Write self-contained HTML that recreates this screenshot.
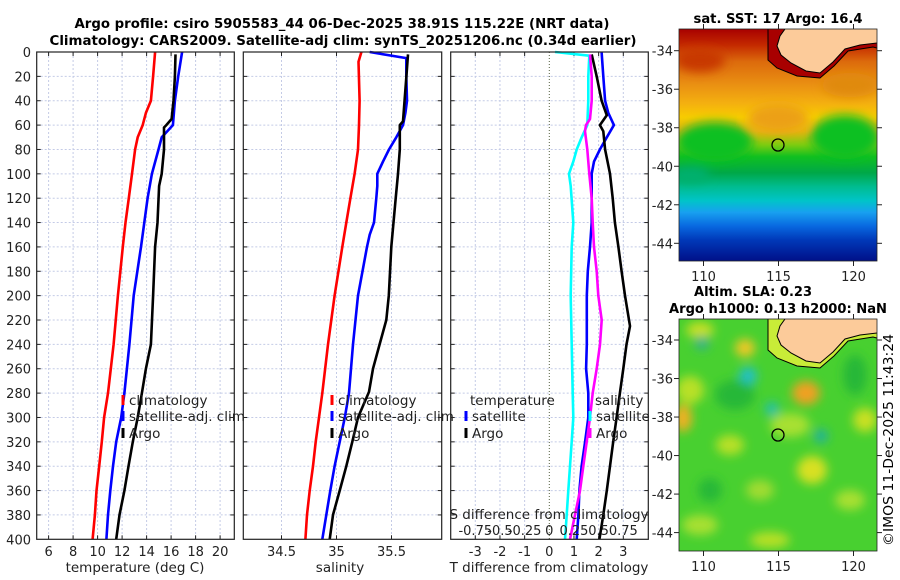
<!DOCTYPE html>
<html><head><meta charset="utf-8">
<style>
html,body{margin:0;padding:0;background:#fff;}
svg{display:block;font-family:"DejaVu Sans","Liberation Sans",sans-serif;}
</style></head>
<body>
<svg id="fig" width="900" height="580" viewBox="0 0 900 580" xmlns="http://www.w3.org/2000/svg">
<defs>
<linearGradient id="sstgrad" x1="0" y1="0" x2="0" y2="1">
<stop offset="0" stop-color="#a80000"/>
<stop offset="0.07" stop-color="#c42a00"/>
<stop offset="0.14" stop-color="#dc6a0c"/>
<stop offset="0.24" stop-color="#ea9012"/>
<stop offset="0.32" stop-color="#f4b010"/>
<stop offset="0.38" stop-color="#f8cc00"/>
<stop offset="0.44" stop-color="#e8b410"/>
<stop offset="0.5" stop-color="#7ccc10"/>
<stop offset="0.55" stop-color="#10c020"/>
<stop offset="0.62" stop-color="#00a848"/>
<stop offset="0.68" stop-color="#00bc90"/>
<stop offset="0.74" stop-color="#00c4c8"/>
<stop offset="0.79" stop-color="#18a0f0"/>
<stop offset="0.85" stop-color="#0868e0"/>
<stop offset="0.91" stop-color="#0038b8"/>
<stop offset="1" stop-color="#001088"/>
</linearGradient>
<clipPath id="clipm1"><rect x="679" y="29" width="198" height="232"/></clipPath>
<clipPath id="clipm2"><rect x="679" y="319" width="198" height="232"/></clipPath>
<filter id="blur4"><feGaussianBlur stdDeviation="5"/></filter>
</defs>

<g font-weight="bold" font-size="13" text-anchor="middle">
<text x="342" y="28" textLength="535" lengthAdjust="spacingAndGlyphs">Argo profile: csiro 5905583_44 06-Dec-2025 38.91S 115.22E (NRT data)</text>
<text x="343" y="45" textLength="587" lengthAdjust="spacingAndGlyphs">Climatology: CARS2009. Satellite-adj clim: synTS_20251206.nc (0.34d earlier)</text>
</g>

<g id="panels"></g>

<!-- SST map -->
<g>
<text x="778" y="23" font-size="13" font-weight="bold" text-anchor="middle" textLength="169" lengthAdjust="spacingAndGlyphs">sat. SST: 17 Argo: 16.4</text>
<g clip-path="url(#clipm1)">
<rect x="679" y="29" width="198" height="232" fill="url(#sstgrad)"/>
<g filter="url(#blur4)">
<ellipse cx="715" cy="142" rx="38" ry="20" fill="#10c020"/>
<ellipse cx="845" cy="137" rx="34" ry="22" fill="#10c020"/>
<ellipse cx="778" cy="118" rx="30" ry="14" fill="#eca018"/>
<ellipse cx="700" cy="60" rx="25" ry="12" fill="#c83800"/>
<ellipse cx="850" cy="85" rx="28" ry="12" fill="#e08a10"/>
<ellipse cx="690" cy="175" rx="20" ry="8" fill="#00b070"/>
</g>
<path d="M768 29 L768 60 L777 68 L797 76 L820 78 L834 66 L848 51 L873 47 L877 48 L877 29 Z" fill="#a80000"/>
<path d="M785 29 L780 36 L777 46 L781 55 L791 63 L806 71 L820 73 L833 62 L845 49 L860 45 L877 43 L877 29 Z" fill="#fccb9a"/>
<path d="M785 29 L780 36 L777 46 L781 55 L791 63 L806 71 L820 73 L833 62 L845 49 L860 45 L877 43" fill="none" stroke="#000" stroke-width="1"/>
<path d="M768 29 L768 60 L777 68 L797 76 L820 78 L834 66 L848 51 L873 47 L877 48" fill="none" stroke="#000" stroke-width="1"/>
</g>
<circle cx="778" cy="145" r="6" fill="none" stroke="#000" stroke-width="1.3"/>
<g id="m1axes"></g>
</g>

<!-- SLA map -->
<g>
<text x="753" y="296" font-size="13" font-weight="bold" text-anchor="middle" textLength="118" lengthAdjust="spacingAndGlyphs">Altim. SLA: 0.23</text>
<text x="778" y="313" font-size="13" font-weight="bold" text-anchor="middle" textLength="218" lengthAdjust="spacingAndGlyphs">Argo h1000: 0.13 h2000: NaN</text>
<g clip-path="url(#clipm2)">
<rect x="679" y="319" width="198" height="232" fill="#48d030"/>
<g filter="url(#blur4)">
<ellipse cx="700" cy="330" rx="14" ry="8" fill="#c8e020"/>
<ellipse cx="745" cy="348" rx="10" ry="9" fill="#f0c828"/>
<ellipse cx="806" cy="393" rx="14" ry="12" fill="#f0a020"/>
<ellipse cx="683" cy="418" rx="9" ry="14" fill="#f0b020"/>
<ellipse cx="690" cy="390" rx="14" ry="14" fill="#b8e028"/>
<ellipse cx="730" cy="445" rx="14" ry="10" fill="#b8e028"/>
<ellipse cx="812" cy="470" rx="15" ry="14" fill="#d8e020"/>
<ellipse cx="790" cy="425" rx="20" ry="12" fill="#a8e030"/>
<ellipse cx="865" cy="420" rx="12" ry="12" fill="#c8e020"/>
<ellipse cx="700" cy="525" rx="18" ry="10" fill="#a8e030"/>
<ellipse cx="770" cy="540" rx="20" ry="8" fill="#b8e028"/>
<ellipse cx="850" cy="500" rx="15" ry="10" fill="#a8e030"/>
<ellipse cx="760" cy="490" rx="14" ry="10" fill="#a0dc30"/>
<ellipse cx="748" cy="376" rx="9" ry="9" fill="#20c0c8"/>
<ellipse cx="772" cy="409" rx="7" ry="7" fill="#20c0b0"/>
<ellipse cx="821" cy="436" rx="7" ry="7" fill="#20b0a0"/>
<ellipse cx="702" cy="343" rx="7" ry="7" fill="#30b090"/>
<ellipse cx="735" cy="395" rx="20" ry="15" fill="#28b838"/>
<ellipse cx="710" cy="490" rx="12" ry="12" fill="#28b838"/>
<ellipse cx="855" cy="375" rx="12" ry="20" fill="#28b838"/>
</g>
<path d="M768 319 L768 350 L777 358 L797 366 L820 368 L834 356 L848 341 L873 337 L877 338 L877 319 Z" fill="#c8ec38"/>
<path d="M785 319 L780 326 L777 336 L781 345 L791 353 L806 361 L820 363 L833 352 L845 339 L860 335 L877 333 L877 319 Z" fill="#fccb9a"/>
<path d="M785 319 L780 326 L777 336 L781 345 L791 353 L806 361 L820 363 L833 352 L845 339 L860 335 L877 333" fill="none" stroke="#000" stroke-width="1"/>
<path d="M768 319 L768 350 L777 358 L797 366 L820 368 L834 356 L848 341 L873 337 L877 338" fill="none" stroke="#000" stroke-width="1"/>
</g>
<circle cx="778" cy="435" r="6" fill="none" stroke="#000" stroke-width="1.3"/>
<g id="m2axes"></g>
</g>

<text transform="translate(893,440) rotate(-90)" font-size="13" text-anchor="middle" textLength="212" lengthAdjust="spacingAndGlyphs">©IMOS 11-Dec-2025 11:43:24</text>

<script>
// ---------------- data ----------------
const depthTicks = [0,20,40,60,80,100,120,140,160,180,200,220,240,260,280,300,320,340,360,380,400];
const tempTicks = [6,8,10,12,14,16,18,20];
const salTicks = [34.5,35,35.5];
const tdiffTicks = [-3,-2,-1,0,1,2,3];
const sdiffTicks = [-0.75,-0.5,-0.25,0,0.25,0.5,0.75];
const sdiffLabels = ["-0.75","-0.5","-0.25","0","0.25","0.5","0.75"];
const lonTicks = [110,115,120];
const latTicks = [-34,-36,-38,-40,-42,-44];

const climTDepth = [0,20,40,50,60,70,80,100,120,140,160,200,240,280,300,320,340,360,380,400];
const climT = [14.69,14.53,14.35,13.94,13.68,13.27,13.06,12.81,12.55,12.28,12.06,11.66,11.31,10.85,10.53,10.34,10.13,9.91,9.78,9.59];
const satTDepth = [0,20,40,60,65,70,80,100,120,140,160,200,240,280,300,320,340,360,380,400];
const satT = [16.9,16.58,16.31,16.15,15.69,15.23,14.97,14.43,14.08,13.81,13.54,12.95,12.6,12.19,11.93,11.52,11.26,11.04,10.85,10.72];
const argoTDepth = [2,20,40,55,60,62,80,100,110,140,160,200,240,260,280,300,320,340,360,380,400];
const argoT = [16.36,16.31,16.2,16.04,15.61,15.42,15.42,15.23,15.02,14.89,14.69,14.53,14.35,13.94,13.62,13.27,12.87,12.52,12.19,11.79,11.52];

const climSDepth = [0,8,40,60,80,100,120,140,160,200,240,280,300,320,340,360,380,400];
const climS = [35.226,35.20,35.21,35.205,35.195,35.165,35.126,35.089,35.053,34.983,34.923,34.871,34.841,34.811,34.786,34.756,34.732,34.717];
const satSDepth = [0,5,20,40,50,60,70,80,90,100,110,120,140,150,160,200,240,280,300,320,340,360,380,400];
const satS = [35.302,35.635,35.635,35.641,35.626,35.605,35.544,35.477,35.423,35.371,35.371,35.362,35.341,35.302,35.277,35.195,35.15,35.114,35.075,35.029,34.983,34.944,34.907,34.871];
const argoSDepth = [2,21,57,60,80,100,120,160,200,220,240,260,279,300,320,340,360,380,400];
const argoS = [35.65,35.635,35.605,35.575,35.575,35.559,35.538,35.498,35.475,35.453,35.392,35.332,35.295,35.195,35.144,35.089,35.029,34.968,34.938];

const tSatDepth = [0,20,40,50,60,70,80,90,100,120,140,160,180,200,240,260,280,300,320,340,360,380,400];
const tSatDiff = [2.12,2.19,2.26,2.39,2.62,2.33,2.05,1.81,1.72,1.72,1.72,1.65,1.56,1.52,1.52,1.49,1.58,1.58,1.45,1.31,1.22,1.18,1.11];
const tArgoDepth = [2,20,40,52,60,65,80,100,120,140,160,180,200,225,240,260,280,300,320,340,360,380,400];
const tArgoDiff = [1.72,1.92,2.12,2.33,2.05,2.19,2.26,2.46,2.57,2.66,2.80,2.93,3.07,3.27,3.13,3.00,2.86,2.73,2.59,2.46,2.33,2.19,2.03];
const sSatDepth = [0,3,20,40,60,70,80,90,100,110,140,160,200,240,280,300,320,340,360,380,400];
const sSatDiff = [0.058,0.405,0.395,0.395,0.385,0.328,0.278,0.243,0.2,0.217,0.243,0.227,0.217,0.227,0.237,0.243,0.227,0.21,0.193,0.176,0.159];
const sArgoDepth = [2,20,40,55,60,65,80,100,120,140,160,180,200,220,240,260,280,300,320,340,360,380,400];
const sArgoDiff = [0.412,0.43,0.43,0.412,0.372,0.362,0.385,0.405,0.43,0.44,0.453,0.48,0.497,0.531,0.514,0.48,0.44,0.412,0.379,0.345,0.311,0.26,0.21];

// ---------------- helpers ----------------
const NS = "http://www.w3.org/2000/svg";
const root = document.getElementById('panels');
function mk(tag, attrs, parent){ const e=document.createElementNS(NS,tag); for(const k in attrs) e.setAttribute(k,attrs[k]); (parent||root).appendChild(e); return e; }
const TOP=52, BOT=539.3;
function yD(d){ return TOP + (d/400)*(BOT-TOP); }
const xT = t => 48.6 + (t-6)*12.25;
const xS = s => 281.5 + (s-34.5)*110;
const xTd = t => 549.3 + t*24.67;
const xSd = s => 549.3 + s*4*24.67;

function frame(x0,x1,vticks,xf,name){
  const g = mk('g',{});
  
  
  depthTicks.forEach(d=>{
    if(d===0||d===400) return;
    const l=mk('line',{x1:x0,x2:x1,y1:yD(d),y2:yD(d),stroke:'#c4cbe6','stroke-width':1,'stroke-dasharray':'2,2'},g);
    
    
    mk('line',{x1:x0,x2:x0+4,y1:yD(d),y2:yD(d),stroke:'#222'},g);
    mk('line',{x1:x1-4,x2:x1,y1:yD(d),y2:yD(d),stroke:'#222'},g);
  });
  vticks.forEach(v=>{
    const x=xf(v);
    const l=mk('line',{x1:x,x2:x,y1:TOP,y2:BOT,stroke:'#c4cbe6','stroke-width':1,'stroke-dasharray':'2,2'},g);
    
    
    mk('line',{x1:x,x2:x,y1:BOT-4,y2:BOT,stroke:'#222'},g);
    mk('line',{x1:x,x2:x,y1:TOP,y2:TOP+4,stroke:'#222'},g);
  });
  return g;
}
function border(x0,x1,name){
  const r=mk('rect',{x:x0,y:TOP,width:x1-x0,height:BOT-TOP,fill:'none',stroke:'#222','stroke-width':1.2});
  
  
}
function series(depths, vals, xf, color, name, w){
  const pts = vals.map((v,i)=> xf(v).toFixed(1)+','+yD(depths[i]).toFixed(1)).join(' ');
  const p = mk('polyline',{points:pts,fill:'none',stroke:color,'stroke-width':w||2.6,'stroke-linejoin':'round'});
  
  
}
function txt(x,y,s,opts,name){
  const t=mk('text',Object.assign({x:x,y:y,'font-size':13,fill:'#222'},opts||{}));
  t.textContent=s;
  
  
  return t;
}
function legendEntry(x,y,color,label,name){
  const g=mk('g',{});
  
  
  mk('line',{x1:x,x2:x,y1:y-5,y2:y+5,stroke:color,'stroke-width':3},g);
  const t=mk('text',{x:x+6,y:y+5,'font-size':13.5,fill:'#222'},g);
  t.textContent=label;
}

// ---------------- panel 1: temperature ----------------
frame(36.7,234.3,tempTicks,xT,'temperature-grid');
series(climTDepth,climT,xT,'#ff0000','temp-climatology-line');
series(satTDepth,satT,xT,'#0000ff','temp-satellite-adj-line');
series(argoTDepth,argoT,xT,'#000000','temp-argo-line');
border(36.7,234.3,'temperature-panel');
depthTicks.forEach(d=>{ txt(31,yD(d)+5,String(d),{'text-anchor':'end'},'depth-tick-label'); });
tempTicks.forEach(v=>{ txt(xT(v),556,String(v),{'text-anchor':'middle'},'temperature-tick-label'); });
txt(135,572,'temperature (deg C)',{'text-anchor':'middle','font-size':13.5},'temperature-axis-title');
legendEntry(123,400,'#ff0000','climatology','legend-climatology');
legendEntry(123,416,'#0000ff','satellite-adj. clim','legend-satellite-adj');
legendEntry(123,433,'#000000','Argo','legend-argo');

// ---------------- panel 2: salinity ----------------
frame(243.3,441.7,salTicks,xS,'salinity-grid');
series(climSDepth,climS,xS,'#ff0000','sal-climatology-line');
series(satSDepth,satS,xS,'#0000ff','sal-satellite-adj-line');
series(argoSDepth,argoS,xS,'#000000','sal-argo-line');
border(243.3,441.7,'salinity-panel');
salTicks.forEach(v=>{ txt(xS(v),556,String(v),{'text-anchor':'middle'},'salinity-tick-label'); });
txt(340,572,'salinity',{'text-anchor':'middle','font-size':13.5},'salinity-axis-title');
legendEntry(332,400,'#ff0000','climatology','legend-sal-climatology');
legendEntry(332,416,'#0000ff','satellite-adj. clim','legend-sal-satellite-adj');
legendEntry(332,433,'#000000','Argo','legend-sal-argo');

// ---------------- panel 3: differences ----------------
frame(450.7,648.3,tdiffTicks.filter(v=>v!==0),xTd,'difference-grid');
const z=mk('line',{x1:xTd(0),x2:xTd(0),y1:TOP,y2:BOT,stroke:'#556040','stroke-width':1,'stroke-dasharray':'1,2'});


series(tSatDepth,tSatDiff,xTd,'#0000ff','tdiff-satellite-line');
series(tArgoDepth,tArgoDiff,xTd,'#000000','tdiff-argo-line');
series(sSatDepth,sSatDiff,xSd,'#00ffff','sdiff-satellite-line');
series(sArgoDepth,sArgoDiff,xSd,'#ff00ff','sdiff-argo-line');
border(450.7,648.3,'difference-panel');
tdiffTicks.forEach(v=>{ txt(xTd(v),556,String(v),{'text-anchor':'middle'},'tdiff-tick-label'); });
txt(549,572,'T difference from climatology',{'text-anchor':'middle','font-size':13.5},'tdiff-axis-title');
txt(549,519,'S difference from climatology',{'text-anchor':'middle','font-size':13.5},'sdiff-axis-title');
sdiffTicks.forEach((v,i)=>{ txt(xSd(v),535,sdiffLabels[i],{'text-anchor':'middle'},'sdiff-tick-label'); });
txt(470,405,'temperature',{'font-size':13.5},'legend-temperature-heading');
txt(595,405,'salinity',{'font-size':13.5},'legend-salinity-heading');
legendEntry(466,416,'#0000ff','satellite','legend-t-satellite');
legendEntry(466,433,'#000000','Argo','legend-t-argo');
legendEntry(590,416,'#00ffff','satellite','legend-s-satellite');
legendEntry(590,433,'#ff00ff','Argo','legend-s-argo');

// ---------------- map axes ----------------
function mapAxes(gid, y0, lat34){
  const g=document.getElementById(gid);
  const lonX = lon => 703.5 + (lon-110)*15;
  const latY = lat => lat34 + (-34-lat)*19.26;
  mk('rect',{x:679,y:y0,width:198,height:232,fill:'none',stroke:'#222','stroke-width':0.8},g);
  latTicks.forEach(l=>{
    const y=latY(l);
    mk('line',{x1:674,x2:679,y1:y,y2:y,stroke:'#222'},g);
    mk('line',{x1:877,x2:882,y1:y,y2:y,stroke:'#222'},g);
    const t=mk('text',{x:673,y:y+5,'font-size':13,'text-anchor':'end',fill:'#222'},g);
    t.textContent=String(l);
    
    
  });
  lonTicks.forEach(l=>{
    const x=lonX(l);
    mk('line',{x1:x,x2:x,y1:y0+232,y2:y0+237,stroke:'#222'},g);
    mk('line',{x1:x,x2:x,y1:y0-5,y2:y0,stroke:'#222'},g);
    const t=mk('text',{x:x,y:y0+252,'font-size':13,'text-anchor':'middle',fill:'#222'},g);
    t.textContent=String(l);
    
    
  });
}
mapAxes('m1axes',29,50.7);
mapAxes('m2axes',319,340);
</script>
</svg>
</body></html>
